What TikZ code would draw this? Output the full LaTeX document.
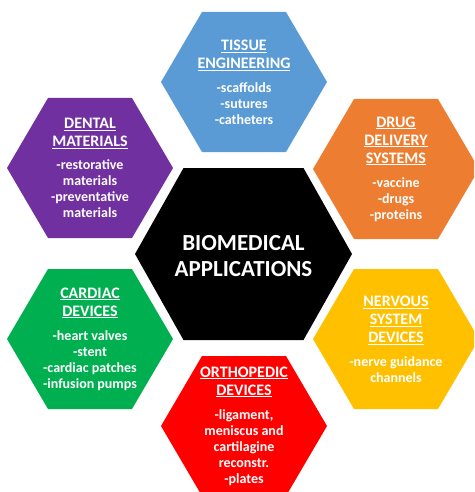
\documentclass[tikz,border=0pt]{standalone}
\usepackage{fontspec}
\setmainfont{Carlito}
\definecolor{hblue}{HTML}{5B9BD5}
\definecolor{horange}{HTML}{ED7D31}
\definecolor{hpurple}{HTML}{7030A0}
\definecolor{hgreen}{HTML}{00B050}
\definecolor{hyellow}{HTML}{FFC000}
\definecolor{hred}{HTML}{FF0000}
\newcommand\hexa[6]{% cx cy halfwidth halfheight halfedge colour
  \fill[#6] ({#1-#3},#2) -- ({#1-#5},{#2-#4}) -- ({#1+#5},{#2-#4}) -- ({#1+#3},#2)
    -- ({#1+#5},{#2+#4}) -- ({#1-#5},{#2+#4}) -- cycle;}
\newcommand\ttl[1]{{\fontsize{16}{18}\selectfont\underline{#1}}}
\tikzset{
  hextext/.style={align=center, text=white, inner sep=0pt,
    font=\fontsize{14}{16}\selectfont\bfseries},
  centertext/.style={align=center, text=white, inner sep=0pt,
    font=\fontsize{23}{25}\selectfont\bfseries}
}
\begin{document}
\begin{tikzpicture}[x=1pt,y=-1pt]
\useasboundingbox (0,0) rectangle (474,492);
\clip (0,0) rectangle (474,492);
\hexa{244}{82}{83}{70}{42}{hblue}
\hexa{90}{168}{83}{70}{42}{hpurple}
\hexa{396}{169}{83}{70}{42}{horange}
\hexa{90}{339}{83}{70}{42}{hgreen}
\hexa{396}{339}{83}{70}{42}{hyellow}
\hexa{244}{426}{83}{70}{42}{hred}
\hexa{243.5}{254}{108.5}{86}{60}{black}

\node[centertext] (bio) at (243.5,256) {BIOMEDICAL\\[1pt]APPLICATIONS};
\node[hextext] (tissue) at (244,82) {\ttl{TISSUE}\\[2pt]\ttl{ENGINEERING}\\[8pt]-scaffolds\\-sutures\\-catheters};
\node[hextext] (dental) at (90,168) {\ttl{DENTAL}\\[2pt]\ttl{MATERIALS}\\[7pt]-restorative\\materials\\-preventative\\materials};
\node[hextext] (drug) at (396,169) {\ttl{DRUG}\\[2pt]\ttl{DELIVERY}\\[2pt]\ttl{SYSTEMS}\\[8pt]-vaccine\\-drugs\\-proteins};
\node[hextext] (cardiac) at (90,339) {\ttl{CARDIAC}\\[2pt]\ttl{DEVICES}\\[8pt]-heart valves\\-stent\\-cardiac patches\\-infusion pumps};
\node[hextext] (nervous) at (396,339) {\ttl{NERVOUS}\\[2pt]\ttl{SYSTEM}\\[2pt]\ttl{DEVICES}\\[8pt]-nerve guidance\\channels};
\node[hextext] (ortho) at (244,426) {\ttl{ORTHOPEDIC}\\[2pt]\ttl{DEVICES}\\[8pt]-ligament,\\meniscus and\\cartilagine\\reconstr.\\-plates};
\end{tikzpicture}
\end{document}
